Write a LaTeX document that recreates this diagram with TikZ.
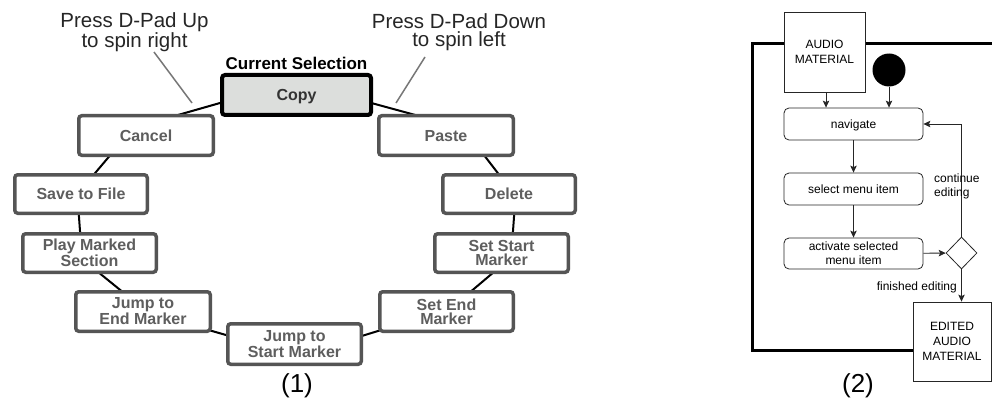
\documentclass[tikz,border=0pt]{standalone}
\usepackage{fontspec}
\setmainfont{Liberation Sans}
\usetikzlibrary{shapes.geometric,arrows.meta,calc}
\pgfdeclarelayer{bg}
\pgfsetlayers{bg,main}
\definecolor{boxgray}{HTML}{555555}
\definecolor{txtgray}{HTML}{5E5E5E}
\definecolor{copyfill}{HTML}{DCDEDC}
\definecolor{notegray}{HTML}{777777}
\begin{document}
\begin{tikzpicture}[x=1pt,y=-1pt,
  menubox/.style={draw=boxgray, line width=3.5pt, rounded corners=3pt, fill=white,
    text=txtgray, font=\fontsize{16}{14.2}\selectfont\bfseries, align=center, inner sep=0pt},
  one/.style={text height=11.5pt, text depth=0pt},
  sz/.style 2 args={minimum width=#1, minimum height=#2},
  ring/.style={line width=2pt, shorten <=-8pt, shorten >=-8pt},
  note/.style={font=\fontsize{20.5}{18}\selectfont, align=center, inner sep=0pt, text=black!85},
  pointer/.style={draw=notegray, line width=1.5pt},
  act/.style={draw=black!85, line width=0.8pt, rounded corners=5pt, fill=white,
    minimum width=139pt, font=\fontsize{12}{14}\selectfont, align=center, inner sep=0pt},
  obj/.style={draw=black!85, line width=0.8pt, fill=white,
    font=\fontsize{12}{15}\selectfont, align=center, inner sep=0pt},
  lbl/.style={font=\fontsize{12}{14}\selectfont, inner sep=0pt},
  flow/.style={draw=black!85, line width=0.8pt, -{Stealth[length=7pt,width=6.5pt,inset=1.5pt]}},
  caption/.style={font=\fontsize{26}{26}\selectfont, inner sep=0pt},
]
\useasboundingbox (0,0) rectangle (992,401);

% ---------- (1) spinning menu ----------
\node[menubox, one, sz={149pt}{40pt}, draw=black, line width=4pt, fill=copyfill, text=black!80] (copy) at (296.5,95) {Copy};
\node[menubox, one, sz={134.5pt}{39.5pt}] (cancel) at (146,135.5) {Cancel};
\node[menubox, one, sz={134.5pt}{39.5pt}] (paste) at (446,135.5) {Paste};
\node[menubox, one, sz={132.5pt}{38.5pt}] (save) at (81,194) {Save to File};
\node[menubox, one, sz={132.5pt}{38.5pt}] (delete) at (509,194) {Delete};
\node[menubox, sz={133.5pt}{38.5pt}] (play) at (89.5,253) {Play Marked\\Section};
\node[menubox, sz={133.5pt}{38.5pt}] (setstart) at (501.5,253) {Set Start\\Marker};
\node[menubox, sz={134.5pt}{39.5pt}] (jumpend) at (143,311.5) {Jump to\\End Marker};
\node[menubox, sz={133.5pt}{39.5pt}] (setend) at (446.5,311.5) {Set End\\Marker};
\node[menubox, sz={133.5pt}{40.5pt}] (jumpstart) at (294.5,344) {Jump to\\Start Marker};

\begin{pgfonlayer}{bg}
\fill[white] (0,0) rectangle (992,401);
\draw[ring] ($(copy.center)+(-76.5,8)$) -- ($(cancel.center)+(39,-22.5)$);
\draw[ring] ($(cancel.center)+(-39,23.5)$) -- ($(save.center)+(15,-22)$);
\draw[ring] ($(save.center)+(-2,23)$) -- ($(play.center)+(-9.5,-22)$);
\draw[ring] ($(play.center)+(13.5,23)$) -- ($(jumpend.center)+(-24,-22.5)$);
\draw[ring] ($(jumpend.center)+(69,19.5)$) -- ($(jumpstart.center)+(-68.5,-9)$);
\draw[ring] ($(jumpstart.center)+(70.5,-9)$) -- ($(setend.center)+(-68.5,19.5)$);
\draw[ring] ($(setend.center)+(28.5,-23.5)$) -- ($(setstart.center)+(-13.5,24)$);
\draw[ring] ($(setstart.center)+(11.5,-22)$) -- ($(delete.center)+(5,23)$);
\draw[ring] ($(delete.center)+(-12,-22)$) -- ($(paste.center)+(41,23.5)$);
\draw[ring] ($(paste.center)+(-38,-22.5)$) -- ($(copy.center)+(78.5,9)$);
\end{pgfonlayer}

\node[font=\fontsize{17}{17}\selectfont\bfseries, text height=12pt, text depth=0pt, inner sep=0pt] (cursel) at (296.5,63.5) {Current Selection};

\node[note] (upnote) at (134.5,32.5) {Press D-Pad Up\\to spin right};
\node[note] (downnote) at (459,32.5) {Press D-Pad Down\\to spin left};
\coordinate (uptip) at (192,103);
\coordinate (downtip) at (396,103);
\draw[pointer] ($(upnote.center)+(19.5,19.5)$) -- (uptip);
\draw[pointer] ($(downnote.center)+(-34,24.5)$) -- (downtip);

\node[caption] (cap1) at (297,386) {(1)};

% ---------- (2) activity diagram ----------
\draw[line width=3pt, line join=miter] (993,44) -- (752,44) -- (752,350) -- (914,350);

\node[obj, minimum width=81pt, minimum height=80pt] (audio) at (824.5,52) {AUDIO\\MATERIAL};
\node[circle, fill=black, minimum size=33pt, inner sep=0pt] (start) at (889,70) {};
\node[act, minimum height=32pt, text height=8.6pt, text depth=0pt] (nav) at (853.5,124) {navigate};
\node[act, minimum height=32pt, text height=8.6pt, text depth=0pt] (sel) at (853.5,189) {select menu item};
\node[act, minimum height=31pt] (actv) at (853.5,253.5) {activate selected\\menu item};
\node[diamond, draw=black!85, line width=0.8pt, fill=white, minimum width=31pt, minimum height=32pt, inner sep=0pt] (dia) at (961.5,253) {};
\node[obj, minimum width=78pt, minimum height=79pt] (edited) at (952,341.5) {EDITED\\AUDIO\\MATERIAL};

\draw[flow] ([xshift=1.5pt]audio.south) -- ([xshift=1.5pt]audio.south |- nav.north);
\draw[flow] (start) -- (start |- nav.north);
\draw[flow] (nav) -- (sel);
\draw[flow] (sel) -- (actv);
\draw[flow] (actv) -- (dia);
\draw[flow] (dia.north) |- (nav.east);
\draw[flow] (dia.south) -- (dia.south |- edited.north);

\node[lbl, align=left, anchor=west] (cont) at (934,186.5) {continue\\editing};
\node[lbl, anchor=base east] (fin) at (957,290) {finished editing};

\node[caption] (cap2) at (858,386) {(2)};
\end{tikzpicture}
\end{document}
